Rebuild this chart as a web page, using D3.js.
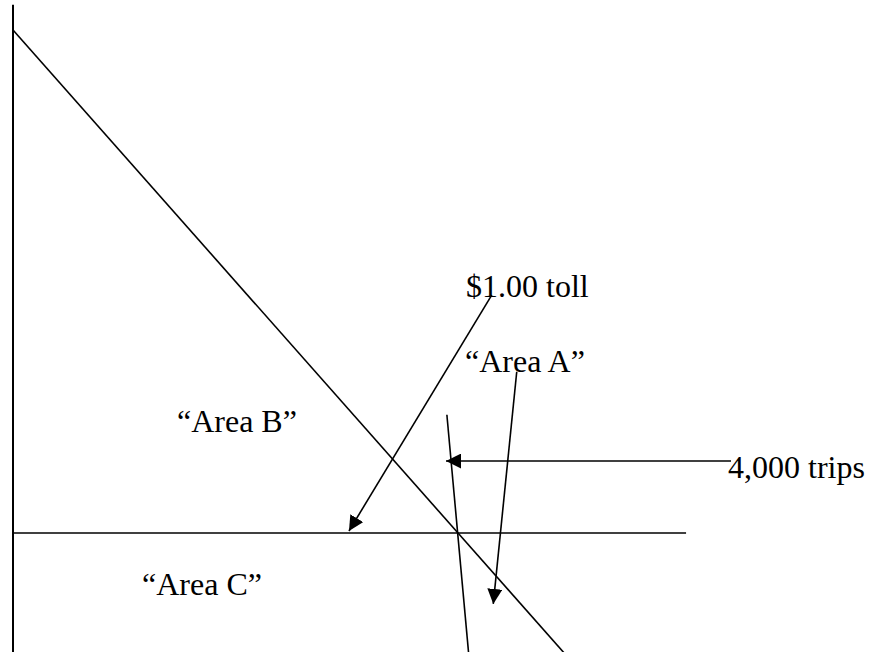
<!DOCTYPE html>
<html>
<head>
<meta charset="utf-8">
<script src="https://cdn.jsdelivr.net/npm/d3@7"></script>
<style>
  html, body { margin: 0; padding: 0; background: #fff; }
  svg { display: block; }
  text { font-family: "Liberation Serif", "Times New Roman", serif; font-size: 32px; fill: #000; }
</style>
</head>
<body>
<svg id="chart"></svg>
<script>
// data units: x = trips, y = price ($)
const priceAxis = [[0, 3.1], [0, 0.5]];
const demand = [[0, 3.0], [4000, 1.0], [5000, 0.5]];
const supply = [[3900, 1.47], [4100, 0.5]];
const tollLine = [[0, 1.0], [6050, 1.0]];

const arrows = [
  { name: 'trips', from: [6454, 1.286], to: [3892, 1.286] },
  { name: 'toll', from: [4303, 1.946], to: [3020, 1.008] },
  { name: 'areaA', from: [4528, 1.641], to: [4317, 0.718] }
];

const labels = [
  { text: '$1.00 toll', x: 4072, y: 1.938 },
  { text: '\u201CArea A\u201D', x: 4063, y: 1.640 },
  { text: '\u201CArea B\u201D', x: 1474, y: 1.402 },
  { text: '\u201CArea C\u201D', x: 1160, y: 0.753 },
  { text: '4,000 trips', x: 6427, y: 1.219 }
];

let width = 870, height = 652;

let svg = d3.select('#chart')
  .attr('width', width)
  .attr('height', height);

let xScale = d3.scaleLinear()
  .domain([0, 4000])
  .range([13, 458]);

let yScale = d3.scaleLinear()
  .domain([1, 3])
  .range([533, 30]);

let line = d3.line()
  .x(d => xScale(d[0]))
  .y(d => yScale(d[1]));

svg.append('defs')
  .append('marker')
  .attr('id', 'head')
  .attr('viewBox', '0 0 10 10')
  .attr('refX', 10)
  .attr('refY', 5)
  .attr('markerWidth', 15)
  .attr('markerHeight', 15)
  .attr('markerUnits', 'userSpaceOnUse')
  .attr('orient', 'auto')
  .append('path')
  .attr('d', 'M0,0 L10,5 L0,10 Z')
  .attr('fill', '#000');

svg.selectAll('.curve')
  .data([priceAxis, demand, supply, tollLine])
  .enter()
  .append('path')
  .attr('class', 'curve')
  .attr('d', line)
  .attr('fill', 'none')
  .attr('stroke', '#000')
  .attr('stroke-width', (d, i) => i == 0 ? 2 : 1.6);

svg.selectAll('.arrow')
  .data(arrows)
  .enter()
  .append('path')
  .attr('class', d => `arrow ${d.name}-arrow`)
  .attr('d', d => line([d.from, d.to]))
  .attr('fill', 'none')
  .attr('stroke', '#000')
  .attr('stroke-width', 1.6)
  .attr('marker-end', 'url(#head)');

svg.selectAll('.label')
  .data(labels)
  .enter()
  .append('text')
  .attr('class', 'label')
  .attr('x', d => xScale(d.x))
  .attr('y', d => yScale(d.y))
  .text(d => d.text);
</script>
</body>
</html>
